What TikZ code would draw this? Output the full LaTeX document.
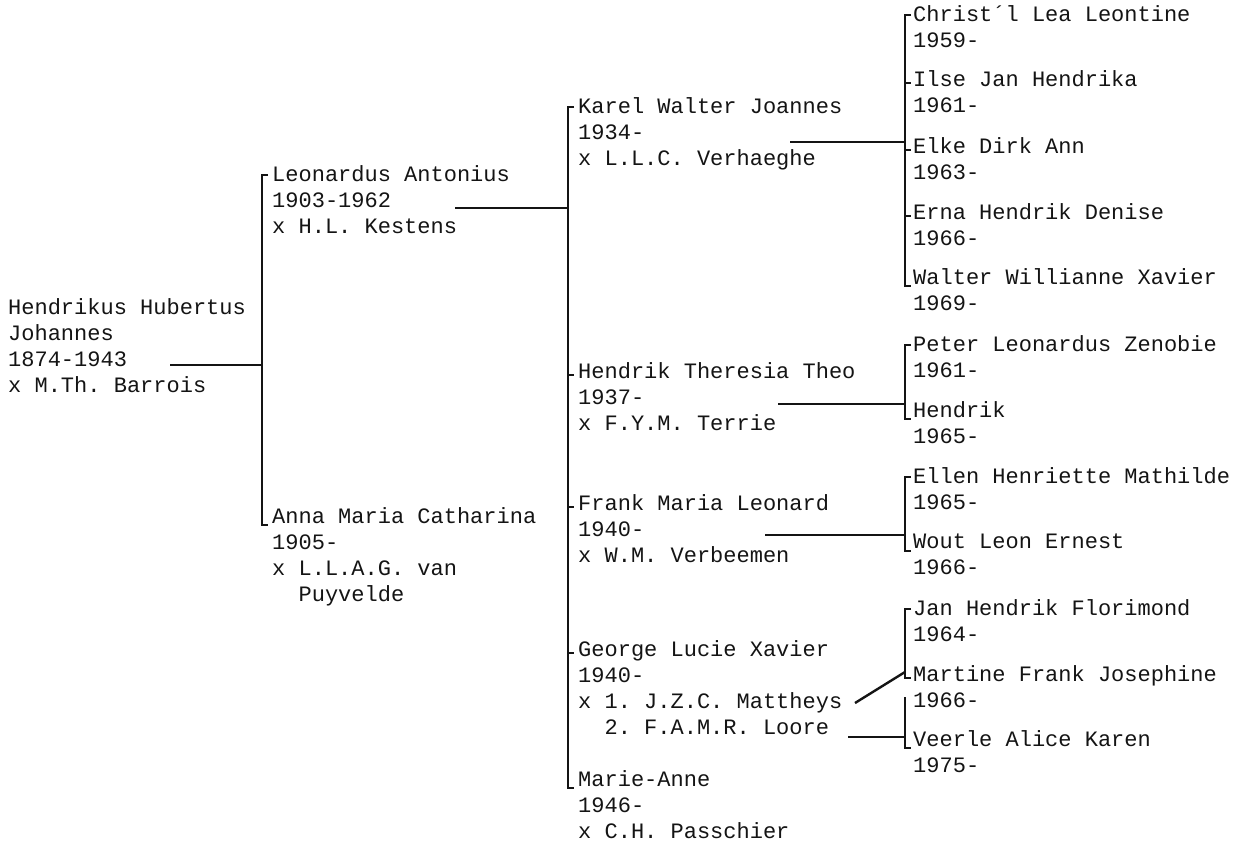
\documentclass[tikz,border=0pt]{standalone}
\usepackage{fontspec}
\setmonofont{Liberation Mono}
\usepackage{xcolor}
\definecolor{ink}{HTML}{141414}
\usepackage{tikz}
\usetikzlibrary{calc,positioning}
\tikzset{
    person/.style={anchor=north west, yshift=18.2pt, inner sep=0pt, align=left, text=ink, font=\ttfamily\fontsize{22}{26}\selectfont, execute at begin node=\strut},
    tree/.style={draw=ink, line width=2.4pt},
    bracket/.style={draw=ink, line width=2.2pt}
}

\begin{document}
\begin{tikzpicture}[x=1pt, y=1pt]
  \useasboundingbox (0,0) rectangle (1246,-849);

  % Bracket lines and connector ends
  \coordinate (bar1) at (262,0);
  \coordinate (bar2) at (568,0);
  \coordinate (bar3) at (905,0);
  \coordinate (root-out) at (170,-365);
  \coordinate (leo-out) at (455,-208);
  \coordinate (karel-out) at (790,-142);
  \coordinate (theo-out) at (778,-404);
  \coordinate (frank-out) at (765,-535);
  \coordinate (george-one) at (855,-703);
  \coordinate (george-two) at (848,-737);
  \coordinate (george-join) at (905,-672);
  \coordinate (george-bar) at (905,-697);

  % Generation 1
  \node[person] (root) at (8,-317) {Hendrikus Hubertus\\Johannes\\1874-1943\\x M.Th. Barrois};

  % Generation 2
  \node[person] (leo) at (272,-184) {Leonardus Antonius\\1903-1962\\x H.L. Kestens};
  \node[person] (anna) at (272,-526) {Anna Maria Catharina\\1905-\\x L.L.A.G. van\\\phantom{xx}Puyvelde};

  % Generation 3
  \node[person] (karel) at (578,-116) {Karel Walter Joannes\\1934-\\x L.L.C. Verhaeghe};
  \node[person] (theo) at (578,-381) {Hendrik Theresia Theo\\1937-\\x F.Y.M. Terrie};
  \node[person] (frank) at (578,-513) {Frank Maria Leonard\\1940-\\x W.M. Verbeemen};
  \node[person] (george) at (578,-659) {George Lucie Xavier\\1940-\\x 1. J.Z.C. Mattheys\\\phantom{xx}2. F.A.M.R. Loore};
  \node[person] (marie) at (578,-789) {Marie-Anne\\1946-\\x C.H. Passchier};

  % Generation 4
  \node[person] (christl) at (913,-24) {Christ´l Lea Leontine\\1959-};
  \node[person] (ilse) at (913,-89) {Ilse Jan Hendrika\\1961-};
  \node[person] (elke) at (913,-156) {Elke Dirk Ann\\1963-};
  \node[person] (erna) at (913,-222) {Erna Hendrik Denise\\1966-};
  \node[person] (walter) at (913,-287) {Walter Willianne Xavier\\1969-};
  \node[person] (peter) at (913,-354) {Peter Leonardus Zenobie\\1961-};
  \node[person] (hendrik) at (913,-420) {Hendrik\\1965-};
  \node[person] (ellen) at (913,-486) {Ellen Henriette Mathilde\\1965-};
  \node[person] (wout) at (913,-552) {Wout Leon Ernest\\1966-};
  \node[person] (jan) at (913,-618) {Jan Hendrik Florimond\\1964-};
  \node[person] (martine) at (913,-684) {Martine Frank Josephine\\1966-};
  \node[person] (veerle) at (913,-749) {Veerle Alice Karen\\1975-};

  % Brackets (first line centre lies 12pt below the node top)
  \draw[bracket] ($(leo.north west)+(-4,-9)$) -- ++(-6,0) |- ($(anna.north west)+(-4,-17)$);
  \draw[bracket] ($(karel.north west)+(-4,-9)$) -- ++(-6,0) |- ($(marie.north west)+(-4,-17)$);
  \draw[bracket] ($(theo.north west)+(-10,-12)$) -- ++(6,0);
  \draw[bracket] ($(frank.north west)+(-10,-12)$) -- ++(6,0);
  \draw[bracket] ($(george.north west)+(-10,-12)$) -- ++(6,0);
  \draw[bracket] ($(christl.north west)+(-2,-9)$) -- ++(-6,0) |- ($(walter.north west)+(-2,-17)$);
  \draw[bracket] ($(ilse.north west)+(-8,-12)$) -- ++(6,0);
  \draw[bracket] ($(elke.north west)+(-8,-12)$) -- ++(6,0);
  \draw[bracket] ($(erna.north west)+(-8,-12)$) -- ++(6,0);
  \draw[bracket] ($(peter.north west)+(-2,-9)$) -- ++(-6,0) |- ($(hendrik.north west)+(-2,-17)$);
  \draw[bracket] ($(ellen.north west)+(-2,-9)$) -- ++(-6,0) |- ($(wout.north west)+(-2,-17)$);
  \draw[bracket] ($(jan.north west)+(-2,-9)$) -- ++(-6,0) |- ($(martine.north west)+(-2,-12)$);
  \draw[bracket] (george-bar) |- ($(veerle.north west)+(-2,-17)$);

  % Parent connectors
  \draw[tree] (root-out) -- (root-out -| bar1);
  \draw[tree] (leo-out) -- (leo-out -| bar2);
  \draw[tree] (karel-out) -- (karel-out -| bar3);
  \draw[tree] (theo-out) -- (theo-out -| bar3);
  \draw[tree] (frank-out) -- (frank-out -| bar3);
  \draw[tree] (george-one) -- (george-join);
  \draw[tree] (george-two) -- (george-two -| bar3);
\end{tikzpicture}
\end{document}
